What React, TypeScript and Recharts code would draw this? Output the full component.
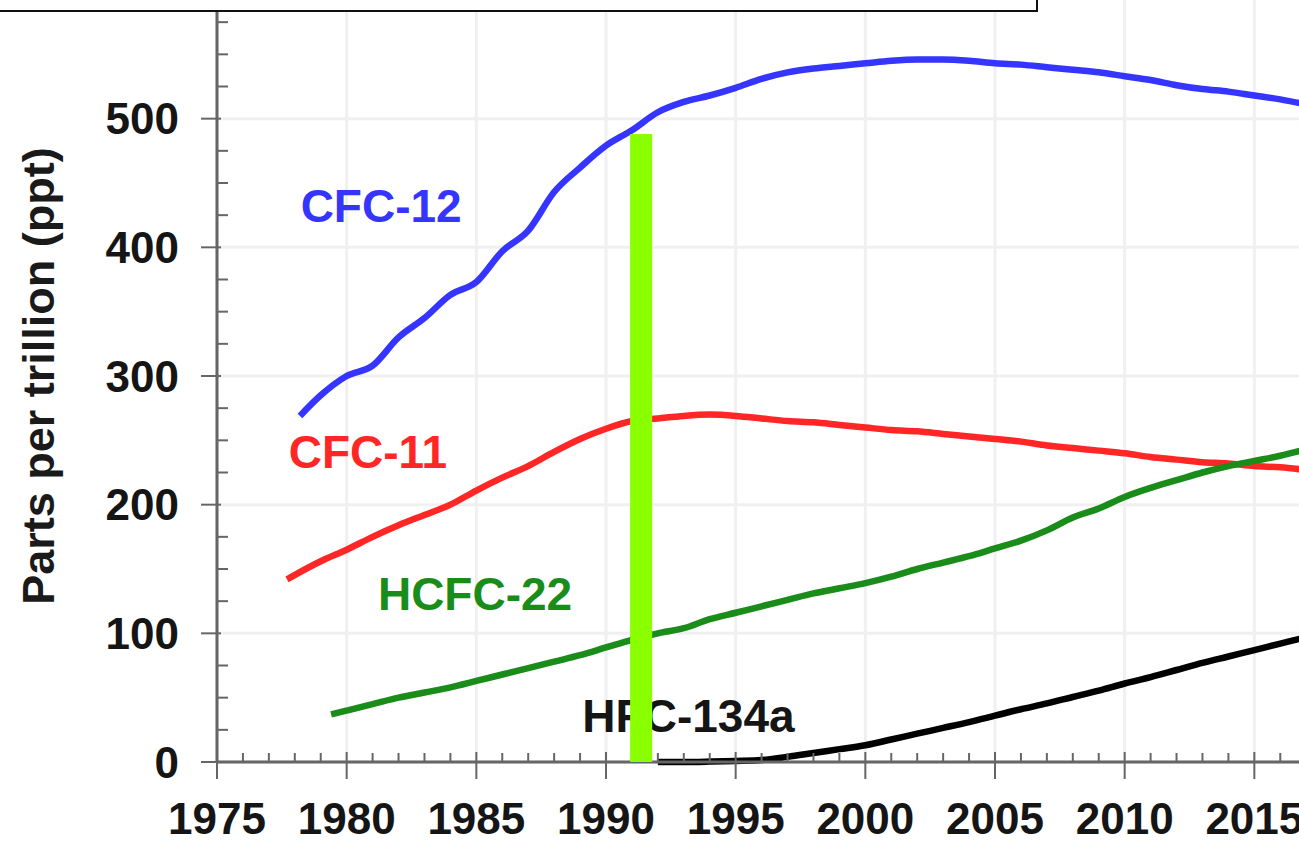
import { LineChart, Line, XAxis, YAxis, CartesianGrid, ReferenceArea, ReferenceDot } from "recharts"

const MAJOR_YEARS = [1975, 1980, 1985, 1990, 1995, 2000, 2005, 2010, 2015, 2020]
const PPT_TICKS = [0, 100, 200, 300, 400, 500, 600]
// the top of the axis sits under the title box, so only these get a number
const PPT_LABELS = [0, 100, 200, 300, 400, 500]

const CFC12_YEARS = [1978.2, 1979, 1980, 1981, 1982, 1983, 1984, 1985, 1986, 1987, 1988, 1989, 1990, 1991, 1992, 1993, 1994, 1995, 1996, 1997, 1998, 1999, 2000, 2001, 2002, 2003, 2004, 2005, 2006, 2007, 2008, 2009, 2010, 2011, 2012, 2013, 2014, 2015, 2016, 2017]
const CFC12_PPT = [269, 285, 300, 308, 330, 345, 363, 373, 397, 413, 443, 462, 479, 491, 505, 513, 518, 524, 531, 536, 539, 541, 543, 545, 546, 546, 545, 543, 542, 540, 538, 536, 533, 530, 526, 523, 521, 518, 515, 511]

const CFC11_YEARS = [1977.7, 1979, 1980, 1981, 1982, 1983, 1984, 1985, 1986, 1987, 1988, 1989, 1990, 1991, 1992, 1993, 1994, 1995, 1996, 1997, 1998, 1999, 2000, 2001, 2002, 2003, 2004, 2005, 2006, 2007, 2008, 2009, 2010, 2011, 2012, 2013, 2014, 2015, 2016, 2017]
const CFC11_PPT = [142, 156, 165, 175, 184, 192, 200, 211, 221, 230, 241, 251, 259, 265, 267, 269, 270, 269, 267, 265, 264, 262, 260, 258, 257, 255, 253, 251, 249, 246, 244, 242, 240, 237, 235, 233, 232, 230, 229, 227]

const HCFC22_YEARS = [1979.4, 1980, 1981, 1982, 1983, 1984, 1985, 1986, 1987, 1988, 1989, 1990, 1991, 1992, 1993, 1994, 1995, 1996, 1997, 1998, 1999, 2000, 2001, 2002, 2003, 2004, 2005, 2006, 2007, 2008, 2009, 2010, 2011, 2012, 2013, 2014, 2015, 2016, 2017]
const HCFC22_PPT = [37, 40, 45, 50, 54, 58, 63, 68, 73, 78, 83, 89, 95, 100, 104, 111, 116, 121, 126, 131, 135, 139, 144, 150, 155, 160, 166, 172, 180, 190, 197, 206, 213, 219, 225, 230, 234, 238, 243]

const HFC134A_YEARS = [1992, 1993, 1994, 1995, 1996, 1997, 1998, 1999, 2000, 2001, 2002, 2003, 2004, 2005, 2006, 2007, 2008, 2009, 2010, 2011, 2012, 2013, 2014, 2015, 2016, 2017]
const HFC134A_PPT = [0, 0, 0.3, 0.8, 1.5, 4, 7, 10, 13, 17.5, 22, 26.5, 31, 36, 41, 45.5, 50.5, 55.5, 61, 66, 71.5, 77, 82, 87, 92, 97]

// where the gas names sit, in data units
const LABELS = [
  { name: "CFC-12", year: 1981.33, ppt: 432, color: "#3535ff" },
  { name: "CFC-11", year: 1980.82, ppt: 241, color: "#ff2626" },
  { name: "HCFC-22", year: 1984.95, ppt: 131, color: "#1a8c1a" },
  { name: "HFC-134a", year: 1993.18, ppt: 36, color: "#151515" },
]

// the green marker bar
const MARKER_FROM = 1990.93
const MARKER_TO = 1991.78
const MARKER_TOP = 488

const pairs = (years: number[], vals: number[]) => years.map((year, i) => ({ year, ppt: vals[i] }))

const minorYears = Array.from({ length: MAJOR_YEARS[MAJOR_YEARS.length - 1] - MAJOR_YEARS[0] + 1 }, (_, i) => MAJOR_YEARS[0] + i)
const minorPpt = Array.from({ length: 25 }, (_, i) => i * 25)

const FONT = "'Liberation Sans', Arial, sans-serif"
const AXIS = "#666"

function YearTick(props: any) {
  const { x, y, payload } = props
  const major = payload.value % 5 === 0
  return (
    <g>
      {major ? (
        <line x1={x} x2={x} y1={y - 10} y2={y + 17} stroke={AXIS} strokeWidth={2} />
      ) : (
        <line x1={x} x2={x} y1={y - 9} y2={y} stroke={AXIS} strokeWidth={2} />
      )}
      {major && (
        <text x={x} y={y + 56} textAnchor="middle" dominantBaseline="central" fontFamily={FONT} fontWeight={700} fontSize={44} fill="#151515">
          {payload.value}
        </text>
      )}
    </g>
  )
}

function PptTick(props: any) {
  const { x, y, payload } = props
  const major = payload.value % 100 === 0
  return (
    <g>
      {major ? (
        <line x1={x - 16} x2={x + 4} y1={y} y2={y} stroke={AXIS} strokeWidth={2} />
      ) : (
        <line x1={x} x2={x + 11} y1={y} y2={y} stroke={AXIS} strokeWidth={2} />
      )}
      {PPT_LABELS.includes(payload.value) && (
        <text x={x - 38} y={y} textAnchor="end" dominantBaseline="central" fontFamily={FONT} fontWeight={700} fontSize={44} fill="#151515">
          {payload.value}
        </text>
      )}
    </g>
  )
}

export default function App() {
  const series = [
    { key: "cfc12", data: pairs(CFC12_YEARS, CFC12_PPT), color: "#3535ff" },
    { key: "cfc11", data: pairs(CFC11_YEARS, CFC11_PPT), color: "#ff2626" },
    { key: "hcfc22", data: pairs(HCFC22_YEARS, HCFC22_PPT), color: "#1a8c1a" },
    { key: "hfc134a", data: pairs(HFC134A_YEARS, HFC134A_PPT), color: "#000" },
  ]

  return (
    <div style={{ position: "absolute", left: 0, top: 0, width: 1299, height: 848, overflow: "hidden", background: "#fff" }}>
      <div style={{ position: "absolute", left: 0, top: -40 }}>
        <LineChart width={1394} height={892} margin={{ top: 30, right: 10, left: 0, bottom: 0 }}>
          <CartesianGrid stroke="#f0f0f0" strokeWidth={3} verticalValues={MAJOR_YEARS} horizontalValues={PPT_TICKS} />
          <XAxis
            type="number"
            dataKey="year"
            domain={[MAJOR_YEARS[0], MAJOR_YEARS[MAJOR_YEARS.length - 1]]}
            ticks={minorYears}
            interval={0}
            tickSize={0}
            tickMargin={0}
            tickLine={false}
            tick={(p: any) => <YearTick {...p} />}
            axisLine={{ stroke: AXIS, strokeWidth: 3 }}
            height={90}
            allowDataOverflow
          />
          <YAxis
            type="number"
            domain={[0, 600]}
            ticks={minorPpt}
            interval={0}
            tickSize={0}
            tickMargin={0}
            tickLine={false}
            tick={(p: any) => <PptTick {...p} />}
            axisLine={{ stroke: AXIS, strokeWidth: 3 }}
            width={217}
            label={{
              content: ({ viewBox }: any) => {
                const cx = viewBox.x + 38
                const cy = viewBox.y + viewBox.height / 2
                return (
                  <text x={cx} y={cy} transform={`rotate(-90 ${cx} ${cy})`} textAnchor="middle" dominantBaseline="central" fontFamily={FONT} fontWeight={700} fontSize={45} fill="#1a1a1a">
                    Parts per trillion (ppt)
                  </text>
                )
              },
            }}
          />
          {series.map((s) => (
            <Line
              key={s.key}
              data={s.data}
              dataKey="ppt"
              type="monotone"
              stroke={s.color}
              strokeWidth={6.5}
              dot={false}
              activeDot={false}
              isAnimationActive={false}
            />
          ))}
          {LABELS.map((l) => (
            <ReferenceDot
              key={l.name}
              x={l.year}
              y={l.ppt}
              r={0}
              fill="none"
              stroke="none"
              label={{ value: l.name, position: "center", fill: l.color, fontSize: 46, fontWeight: 700, fontFamily: FONT }}
            />
          ))}
          <ReferenceArea
            x1={MARKER_FROM}
            x2={MARKER_TO}
            y1={0}
            y2={MARKER_TOP}
            fill="#8aff00"
            fillOpacity={1}
            stroke="none"
            zIndex={3000}
          />
        </LineChart>
      </div>
      <div
        style={{
          position: "absolute",
          left: -4,
          top: -10,
          width: 1042,
          height: 22,
          boxSizing: "border-box",
          border: "2px solid #111",
          background: "#fff",
        }}
      />
    </div>
  )
}
